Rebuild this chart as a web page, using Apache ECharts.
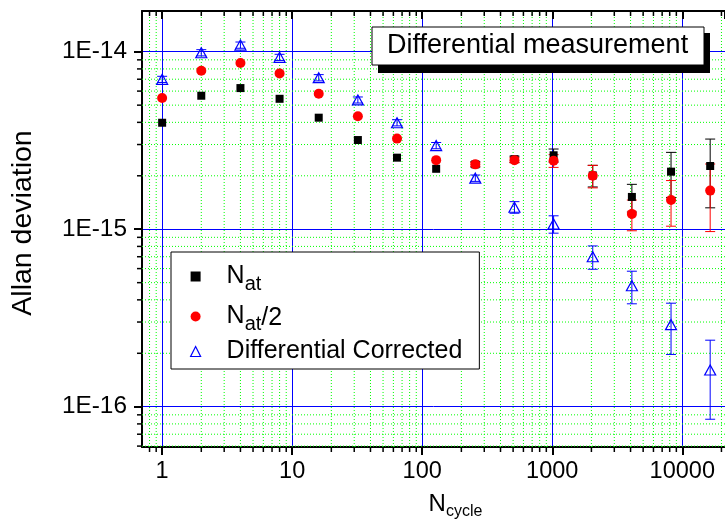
<!DOCTYPE html>
<html>
<head>
<meta charset="utf-8">
<script src="https://cdn.jsdelivr.net/npm/echarts@6/dist/echarts.min.js"></script>
<style>
html, body { margin: 0; padding: 0; background: #fff; }
#chart { width: 725px; height: 525px; }
</style>
</head>
<body>
<div id="chart"></div>
<script>
// averaging cycles
const nCycle = [1, 2, 4, 8, 16, 32, 64, 128, 256, 512, 1024, 2048, 4096, 8192, 16384];
// Allan deviation, in units of 1E-15
const natDev  = [3.98, 5.65, 6.24, 5.43, 4.25, 3.18, 2.53, 2.19, 2.32, 2.48, 2.61, 2.01, 1.52, 2.11, 2.27];
const natErr  = [0, 0, 0, 0, 0, 0, 0, 0, 0.08, 0.1, 0.22, 0.28, 0.27, 0.6, 0.95];
const halfDev = [5.48, 7.82, 8.64, 7.55, 5.80, 4.33, 3.24, 2.45, 2.32, 2.45, 2.43, 2.00, 1.22, 1.46, 1.65];
const halfErr = [0, 0, 0, 0, 0, 0, 0, 0, 0.06, 0.08, 0.2, 0.29, 0.24, 0.42, 0.68];
const corrDev = [6.99, 9.87, 10.9, 9.30, 7.14, 5.35, 3.98, 2.96, 1.94, 1.33, 1.07, 0.70, 0.48, 0.29, 0.161];
const corrErr = [0.28, 0.4, 0.44, 0.37, 0.29, 0.21, 0.16, 0.12, 0.08, 0.10, 0.12, 0.105, 0.10, 0.093, 0.076];

// minor log ticks (2..9 in each decade)
const minorSteps = [2, 3, 4, 5, 6, 7, 8, 9];
const xDecades = [0.1, 1, 10, 100, 1000, 10000];
const yDecades = [1e-17, 1e-16, 1e-15];

const F = '"Liberation Sans", Arial, sans-serif';
const xMin = 0.7, xMax = 21300;
const yMin = 5.93e-17, yMax = 1.696e-14;

function minorList(decades, lo, hi) {
    var out = [];
    decades.forEach(function(d) {
        minorSteps.forEach(function(s) {
            var v = Number((d * s).toPrecision(6));
            if (v > lo && v < hi) out.push(v);
        });
    });
    return out;
}
const xMinor = minorList(xDecades, xMin, xMax);
const yMinor = minorList(yDecades, yMin, yMax);

function errBars(vals, errs, color) {
    var data = [];
    nCycle.forEach(function(n, i) {
        if (errs[i] > 0) data.push([n, (vals[i] - errs[i]) * 1e-15, (vals[i] + errs[i]) * 1e-15]);
    });
    return {
        type: 'custom',
        silent: true,
        z: 3,
        encode: { x: 0, y: [1, 2] },
        data: data,
        renderItem: function(params, api) {
            var lo = api.coord([api.value(0), api.value(1)]);
            var hi = api.coord([api.value(0), api.value(2)]);
            var w = 5;
            var st = { stroke: color, lineWidth: 1 };
            return {
                type: 'group',
                children: [
                    { type: 'line', shape: { x1: hi[0], y1: hi[1], x2: lo[0], y2: lo[1] }, style: st },
                    { type: 'line', shape: { x1: hi[0] - w, y1: hi[1], x2: hi[0] + w, y2: hi[1] }, style: st },
                    { type: 'line', shape: { x1: lo[0] - w, y1: lo[1], x2: lo[0] + w, y2: lo[1] }, style: st }
                ]
            };
        }
    };
}

function points(vals) {
    return nCycle.map(function(n, i) { return [n, vals[i] * 1e-15]; });
}

var myChart = echarts.init(document.getElementById('chart'));

option = {
    animation: false,
    grid: { left: 142, top: 11, width: 585, height: 436 },
    xAxis: [{
        type: 'log',
        min: xMin,
        max: xMax,
        name: '{n|N}{s|cycle}',
        nameLocation: 'middle',
        nameGap: 44,
        nameTextStyle: {
            padding: [0, 0, 0, 44],
            rich: {
                n: { fontFamily: F, fontSize: 24, lineHeight: 24, color: '#000', verticalAlign: 'top' },
                s: { fontFamily: F, fontSize: 16, lineHeight: 16, color: '#000', padding: [15, 0, 0, 0] }
            }
        },
        axisLine: { lineStyle: { color: '#000', width: 2 } },
        axisTick: { inside: false, length: 8, lineStyle: { color: '#000', width: 2 } },
        axisLabel: {
            margin: 13,
            fontFamily: F,
            fontSize: 23.5,
            color: '#000',
            showMinLabel: false,
            showMaxLabel: false,
            formatter: function(v) { return String(Math.round(v)); }
        },
        splitLine: { show: true, lineStyle: { color: '#0000ff', width: 1 } }
    }, {
        type: 'log',
        position: 'top',
        min: xMin,
        max: xMax,
        axisLine: { lineStyle: { color: '#000', width: 2 } },
        axisTick: { inside: true, length: 8, lineStyle: { color: '#000', width: 2 } },
        axisLabel: { show: false },
        splitLine: { show: false }
    }],
    yAxis: [{
        type: 'log',
        min: yMin,
        max: yMax,
        name: 'Allan deviation',
        nameLocation: 'middle',
        nameRotate: 90,
        nameGap: 104,
        nameTextStyle: { fontFamily: F, fontSize: 28.5, color: '#000', padding: [0, 0, 0, 12] },
        axisLine: { lineStyle: { color: '#000', width: 2 } },
        axisTick: { inside: false, length: 8, lineStyle: { color: '#000', width: 2 } },
        axisLabel: {
            margin: 15,
            fontFamily: F,
            fontSize: 24.4,
            color: '#000',
            showMinLabel: false,
            showMaxLabel: false,
            formatter: function(v) { return '1E' + Math.round(Math.log10(v)); }
        },
        splitLine: { show: true, lineStyle: { color: '#0000ff', width: 1 } }
    }],
    legend: {
        orient: 'vertical',
        left: 171,
        top: 252,
        backgroundColor: '#fff',
        borderColor: '#000',
        borderWidth: 1,
        borderRadius: 0,
        padding: [7, 17, 5, 19],
        itemGap: 5,
        itemWidth: 10,
        itemHeight: 10,
        selectedMode: false,
        data: [
            { name: 'Nat', icon: 'rect', itemStyle: { color: '#000' } },
            { name: 'Nat2', icon: 'circle', itemStyle: { color: '#ff0000' } },
            { name: 'Corr', icon: 'triangle', itemStyle: { color: '#fff', borderColor: '#0000ff', borderWidth: 1.2 } }
        ],
        formatter: function(name) {
            if (name === 'Nat') return '{n|N}{s|at}';
            if (name === 'Nat2') return '{n|N}{s|at}{t|/2}';
            return '{n|Differential Corrected}';
        },
        textStyle: {
            fontFamily: F,
            fontSize: 25,
            color: '#000',
            rich: {
                n: { fontFamily: F, fontSize: 25, lineHeight: 25, color: '#000', verticalAlign: 'top', padding: [0, 0, 0, 21] },
                s: { fontFamily: F, fontSize: 20, lineHeight: 20, color: '#000', padding: [15, 0, 0, 0] },
                t: { fontFamily: F, fontSize: 25, lineHeight: 25, color: '#000', verticalAlign: 'top', padding: [2, 0, 0, 0] }
            }
        }
    },
    graphic: [
        { type: 'rect', z: 100, shape: { x: 378, y: 33, width: 332, height: 40 }, style: { fill: '#000' } },
        { type: 'rect', z: 101, shape: { x: 372, y: 27, width: 332, height: 38 }, style: { fill: '#fff', stroke: '#000', lineWidth: 1 } },
        { type: 'text', z: 102, x: 387, y: 46, style: { text: 'Differential measurement', font: '27px ' + F, fill: '#000', verticalAlign: 'middle' } }
    ],
    series: [
        {
            // minor vertical grid + ticks
            type: 'custom',
            silent: true,
            z: 1,
            encode: { x: 0 },
            data: xMinor.map(function(v) { return [v, yMin]; }),
            renderItem: function(params, api) {
                var v = api.value(0);
                var b = api.coord([v, yMin]);
                var t = api.coord([v, yMax]);
                return {
                    type: 'group',
                    children: [
                        { type: 'line', shape: { x1: b[0], y1: b[1], x2: t[0], y2: t[1] }, style: { stroke: '#00ff00', lineWidth: 1, lineDash: [1, 2] } },
                        { type: 'line', shape: { x1: b[0], y1: b[1], x2: b[0], y2: b[1] + 5 }, style: { stroke: '#000', lineWidth: 1.5 } },
                        { type: 'line', shape: { x1: t[0], y1: t[1], x2: t[0], y2: t[1] + 5 }, style: { stroke: '#000', lineWidth: 1.5 } }
                    ]
                };
            }
        },
        {
            // minor horizontal grid + ticks
            type: 'custom',
            silent: true,
            z: 1,
            encode: { x: 0, y: 1 },
            data: yMinor.map(function(v) { return [xMin, v]; }),
            renderItem: function(params, api) {
                var v = api.value(1);
                var l = api.coord([xMin, v]);
                var r = api.coord([xMax, v]);
                return {
                    type: 'group',
                    children: [
                        { type: 'line', shape: { x1: l[0], y1: l[1], x2: r[0], y2: r[1] }, style: { stroke: '#00ff00', lineWidth: 1, lineDash: [1, 2] } },
                        { type: 'line', shape: { x1: l[0] - 5, y1: l[1], x2: l[0], y2: l[1] }, style: { stroke: '#000', lineWidth: 1.5 } }
                    ]
                };
            }
        },
        errBars(natDev, natErr, '#000000'),
        { name: 'Nat', type: 'scatter', z: 3, symbol: 'rect', symbolSize: 8, itemStyle: { color: '#000', opacity: 1 }, data: points(natDev) },
        errBars(halfDev, halfErr, '#ff0000'),
        { name: 'Nat2', type: 'scatter', z: 3, symbol: 'circle', symbolSize: 10, itemStyle: { color: '#ff0000', opacity: 1 }, data: points(halfDev) },
        errBars(corrDev, corrErr, '#0000ff'),
        { name: 'Corr', type: 'scatter', z: 3, symbol: 'triangle', symbolSize: [11, 10],
          itemStyle: { color: 'rgba(255,255,255,0)', borderColor: '#0000ff', borderWidth: 1.2, opacity: 1 }, data: points(corrDev) }
    ]
};

myChart.setOption(option);
window.addEventListener('resize', function() { myChart.resize(); });
</script>
</body>
</html>
